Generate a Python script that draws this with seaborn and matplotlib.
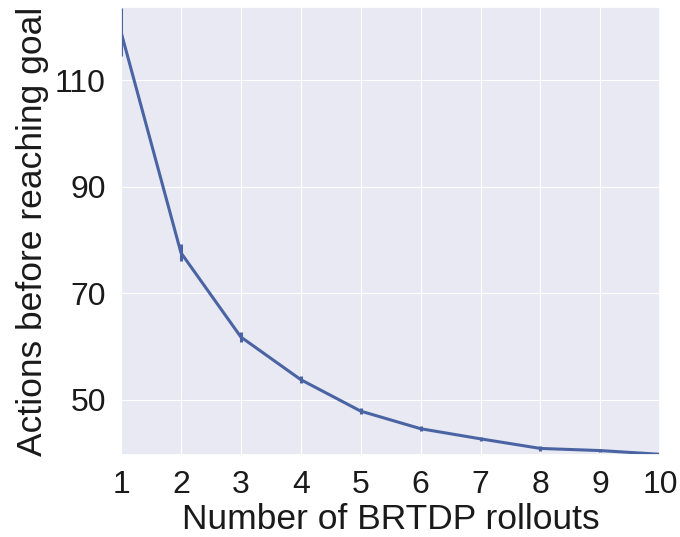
import matplotlib
matplotlib.use("Agg")
import matplotlib.pyplot as plt
import numpy as np
import pandas as pd
import seaborn as sns

rollouts = [1, 2, 3, 4, 5, 6, 7, 8, 9, 10]
mean_actions = [119.0, 77.6, 61.8, 53.8, 47.9, 44.6, 42.7, 40.9, 40.5, 39.8]
err_actions = [4.5, 1.6, 1.0, 0.7, 0.6, 0.5, 0.4, 0.4, 0.3, 0.3]

sns.set_theme(style="darkgrid", rc={"grid.linewidth": 0.8,
                                    "axes.facecolor": "#e8e9f2",
                                    "text.color": "#1a1a1a",
                                    "xtick.color": "#1a1a1a",
                                    "ytick.color": "#1a1a1a",
                                    "axes.labelcolor": "#1a1a1a"})
plt.rcParams["font.family"] = ["Liberation Sans", "DejaVu Sans"]

df = pd.DataFrame({"rollouts": rollouts, "actions": mean_actions, "err": err_actions})
color = "#4a64a3"

fig, ax = plt.subplots(figsize=(6.8, 5.37), dpi=100)
sns.lineplot(data=df, x="rollouts", y="actions", color=color, lw=2.2, ax=ax)
ax.errorbar(df["rollouts"], df["actions"], yerr=df["err"], fmt="none",
            ecolor=color, elinewidth=2.2, capsize=0)

ax.set_xlim(1, 10)
ax.set_ylim(39.7, 123.7)
ax.set_xticks(rollouts)
ax.set_yticks([50, 70, 90, 110])
ax.tick_params(labelsize=23, pad=5)
ax.set_xlabel("Number of BRTDP rollouts", fontsize=25.5, labelpad=2)
ax.set_ylabel("Actions before reaching goal", fontsize=25.5, labelpad=4)

fig.subplots_adjust(left=0.178, right=0.971, top=0.987, bottom=0.153)
fig.savefig("out.png", dpi=100)
